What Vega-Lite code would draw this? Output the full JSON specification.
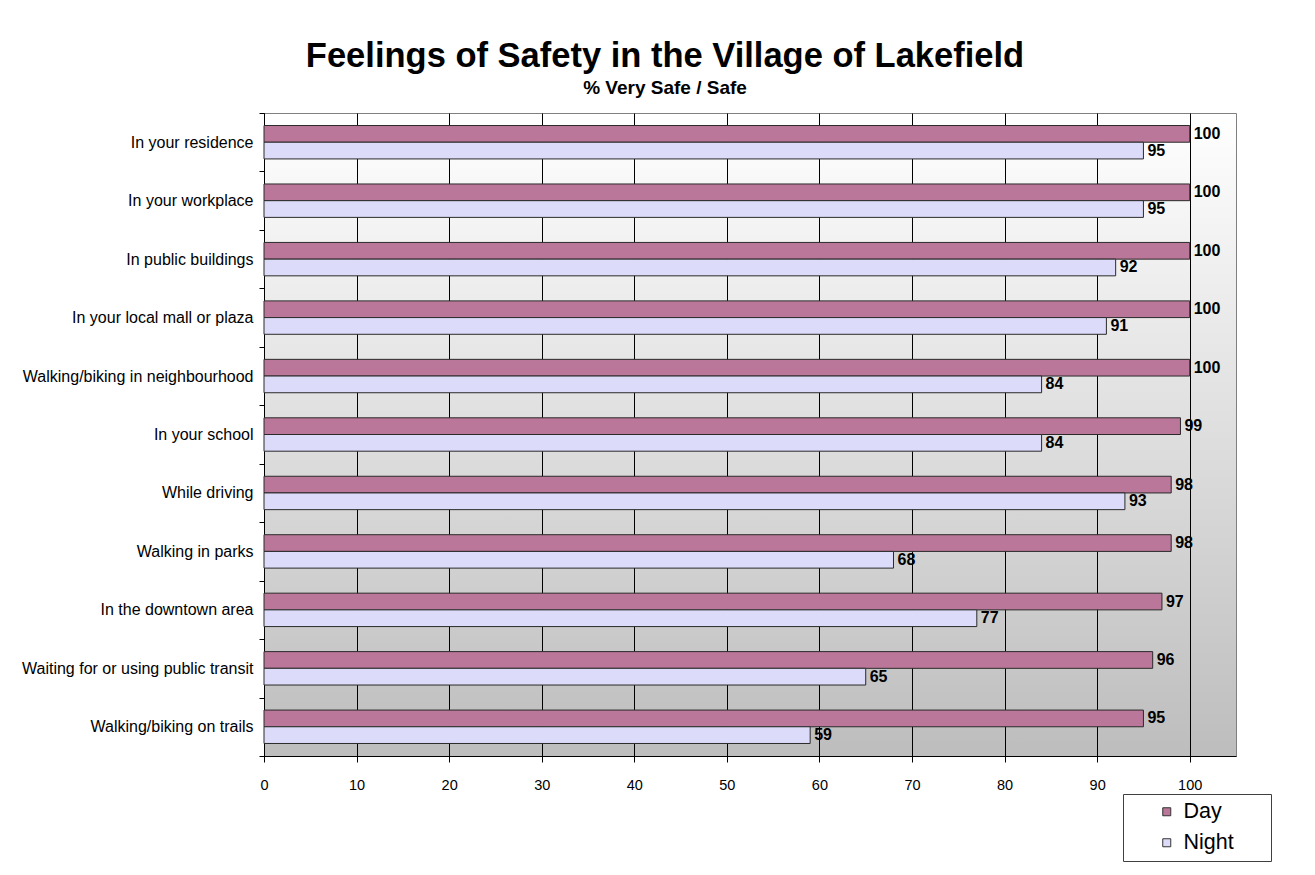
{
  "$schema": "https://vega.github.io/schema/vega-lite/v6.json",
  "autosize": {"type": "none"},
  "padding": {"left": 264, "top": 113, "right": 79, "bottom": 119},
  "width": 972,
  "height": 643,
  "background": "white",
  "title": {
    "text": "Feelings of Safety in the Village of Lakefield",
    "subtitle": "% Very Safe / Safe",
    "anchor": "middle",
    "frame": "group",
    "dx": -85,
    "offset": 6,
    "font": "Liberation Sans",
    "fontSize": 34.5,
    "fontWeight": "bold",
    "color": "black",
    "subtitleFont": "Liberation Sans",
    "subtitleFontSize": 19,
    "subtitleFontWeight": "bold",
    "subtitleColor": "black",
    "subtitlePadding": 5
  },
  "data": {
    "values": [
      {"place": "In your residence", "series": "Day", "pct": 100},
      {"place": "In your residence", "series": "Night", "pct": 95},
      {"place": "In your workplace", "series": "Day", "pct": 100},
      {"place": "In your workplace", "series": "Night", "pct": 95},
      {"place": "In public buildings", "series": "Day", "pct": 100},
      {"place": "In public buildings", "series": "Night", "pct": 92},
      {"place": "In your local mall or plaza", "series": "Day", "pct": 100},
      {"place": "In your local mall or plaza", "series": "Night", "pct": 91},
      {"place": "Walking/biking in neighbourhood", "series": "Day", "pct": 100},
      {"place": "Walking/biking in neighbourhood", "series": "Night", "pct": 84},
      {"place": "In your school", "series": "Day", "pct": 99},
      {"place": "In your school", "series": "Night", "pct": 84},
      {"place": "While driving", "series": "Day", "pct": 98},
      {"place": "While driving", "series": "Night", "pct": 93},
      {"place": "Walking in parks", "series": "Day", "pct": 98},
      {"place": "Walking in parks", "series": "Night", "pct": 68},
      {"place": "In the downtown area", "series": "Day", "pct": 97},
      {"place": "In the downtown area", "series": "Night", "pct": 77},
      {"place": "Waiting for or using public transit", "series": "Day", "pct": 96},
      {"place": "Waiting for or using public transit", "series": "Night", "pct": 65},
      {"place": "Walking/biking on trails", "series": "Day", "pct": 95},
      {"place": "Walking/biking on trails", "series": "Night", "pct": 59}
    ]
  },
  "encoding": {
    "y": {
      "field": "place",
      "type": "nominal",
      "sort": null,
      "scale": {"paddingInner": 0, "paddingOuter": 0},
      "axis": {
        "title": null,
        "tickBand": "extent",
        "tickSize": 5,
        "tickColor": "black",
        "domainColor": "black",
        "labelColor": "black",
        "labelFont": "Liberation Sans",
        "labelFontSize": 16,
        "labelPadding": 6,
        "labelLimit": 400,
        "grid": false
      }
    },
    "yOffset": {
      "field": "series",
      "type": "nominal",
      "scale": {"paddingInner": 0, "paddingOuter": 0.75}
    },
    "x": {
      "field": "pct",
      "type": "quantitative",
      "scale": {"domain": [0, 105], "nice": false},
      "axis": {
        "title": null,
        "values": [0, 10, 20, 30, 40, 50, 60, 70, 80, 90, 100],
        "grid": true,
        "gridColor": "black",
        "gridOpacity": 1,
        "gridWidth": 1,
        "tickSize": 6,
        "tickColor": "black",
        "domainColor": "black",
        "labelColor": "black",
        "labelFont": "Liberation Sans",
        "labelFontSize": 14.5,
        "labelPadding": 16,
        "labelFlush": false
      }
    }
  },
  "layer": [
    {
      "mark": {"type": "bar", "stroke": "#2a2a2a", "strokeWidth": 1, "opacity": 1},
      "encoding": {
        "color": {
          "field": "series",
          "type": "nominal",
          "scale": {"domain": ["Day", "Night"], "range": ["#bb7799", "#dcdcfa"]},
          "legend": {
            "title": null,
            "orient": "none",
            "legendX": 859,
            "legendY": 681,
            "direction": "vertical",
            "fillColor": "white",
            "strokeColor": "#404040",
            "padding": 7,
            "symbolType": "square",
            "symbolSize": 64,
            "symbolStrokeColor": "#333333",
            "symbolStrokeWidth": 1,
            "symbolOpacity": 1,
            "symbolOffset": 26,
            "labelOffset": 6,
            "labelFont": "Liberation Sans",
            "labelFontSize": 21.5,
            "labelColor": "black",
            "rowPadding": 8,
            "labelExpr": "datum.label + '\u00a0\u00a0\u00a0\u00a0\u00a0\u200b'"
          }
        }
      }
    },
    {
      "mark": {"type": "text", "align": "left", "baseline": "middle", "dx": 4, "font": "Liberation Sans", "fontSize": 16, "fontWeight": "bold", "color": "black"},
      "encoding": {
        "text": {"field": "pct", "type": "quantitative"}
      }
    }
  ],
  "config": {
    "view": {
      "stroke": "#808080",
      "strokeWidth": 1,
      "fill": {
        "gradient": "linear",
        "x1": 0, "y1": 0, "x2": 0, "y2": 1,
        "stops": [
          {"offset": 0, "color": "#ffffff"},
          {"offset": 1, "color": "#bdbdbd"}
        ]
      }
    }
  }
}
